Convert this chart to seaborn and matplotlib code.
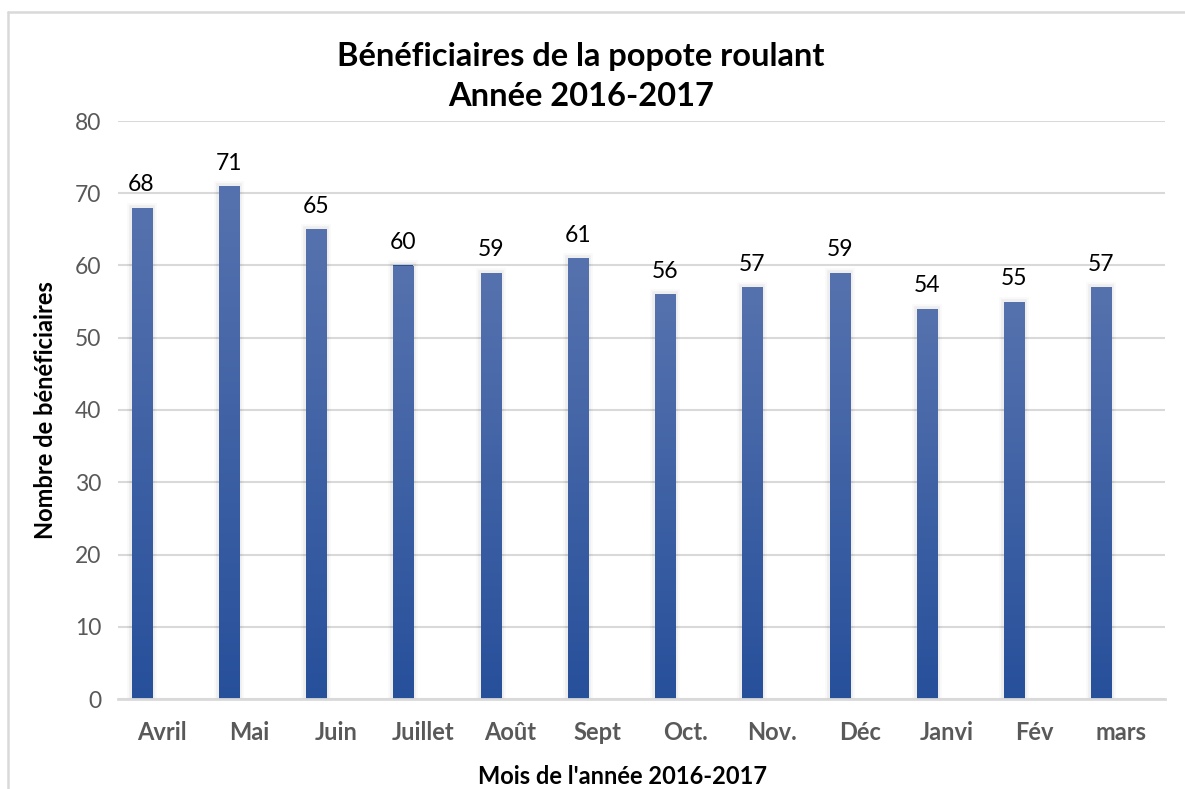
import numpy as np
import pandas as pd
import matplotlib
matplotlib.use('Agg')
import matplotlib.pyplot as plt
import matplotlib.patheffects as pe
from matplotlib.lines import Line2D
import seaborn as sns

# data
mois = ['Avril', 'Mai', 'Juin', 'Juillet', 'Août', 'Sept', 'Oct.', 'Nov.', 'Déc', 'Janvi', 'Fév', 'mars']
beneficiaires = [68, 71, 65, 60, 59, 61, 56, 57, 59, 54, 55, 57]
series = ['Bénéficiaires', 'vide 1', 'vide 2']   # excel chart keeps empty series slots

df = pd.DataFrame({'mois': mois, 'valeur': beneficiaires, 'serie': series[0]})

sns.set_theme(style='white')
plt.rcParams['font.family'] = ['Lato', 'DejaVu Sans']

fig = plt.figure(figsize=(11.85, 7.89), dpi=100)
ax = fig.add_axes([118 / 1185, 1 - 699 / 789, (1165 - 118) / 1185, (699 - 121) / 789])

sns.barplot(data=df, x='mois', y='valeur', hue='serie', hue_order=series,
            palette=['#27509b', '#27509b', '#27509b'], width=0.69, dodge=True,
            legend=False, ax=ax, saturation=1,
            linewidth=0)

# gradient + soft shadow on bars
grad = np.linspace(0, 1, 256).reshape(-1, 1)
cmap = matplotlib.colors.LinearSegmentedColormap.from_list('g', ['#27509b', '#5672ae'])
for p in list(ax.patches):
    if np.isnan(p.get_height()) or p.get_height() == 0:
        continue
    p.set_path_effects([pe.Stroke(linewidth=7, foreground='black', alpha=0.025),
                        pe.Stroke(linewidth=4, foreground='black', alpha=0.045),
                        pe.Normal()])
    x0, y0 = p.get_x(), p.get_y()
    im = ax.imshow(grad, extent=[x0, x0 + p.get_width(), y0, y0 + p.get_height()],
                   origin='lower', cmap=cmap, aspect='auto', zorder=p.get_zorder() + 0.1)
    im.set_clip_path(p)

for c in ax.containers:
    ax.bar_label(c, fontsize=16.5, padding=9, color='black')

ax.set_xlim(-0.5, len(mois) - 0.5)
ax.set_ylim(0, 80)
ax.set_yticks(range(0, 81, 10))
ax.yaxis.grid(True, color='#d9d9d9', linewidth=1.5)
ax.set_axisbelow(True)
for s in ['top', 'right', 'left']:
    ax.spines[s].set_visible(False)
ax.spines['bottom'].set_color('#d9d9d9')
ax.spines['bottom'].set_linewidth(2)
ax.tick_params(axis='both', length=0, colors='#595959', labelsize=16.5)
ax.tick_params(axis='x', pad=16, labelsize=17)
ax.tick_params(axis='y', pad=12)
for t in ax.get_xticklabels():
    t.set_fontweight('bold')

ax.set_xlabel("Mois de l'année 2016-2017", fontsize=17, fontweight='bold', color='black')
ax.xaxis.set_label_coords((623 - 118) / 1047, -0.115)
ax.set_ylabel('Nombre de bénéficiaires', fontsize=17, fontweight='bold', color='black')
ax.yaxis.set_label_coords(-0.058, 0.5)
ax.set_title('Bénéficiaires de la popote roulant\nAnnée 2016-2017', fontsize=23.5,
             fontweight='bold', color='black', x=(581 - 118) / 1047, pad=11, linespacing=1.45)

# chart frame, partly cut off
fig.add_artist(Line2D([8 / 1185, 1], [1 - 12 / 789] * 2, color='#d9d9d9', linewidth=1.8))
fig.add_artist(Line2D([8 / 1185] * 2, [0, 1 - 12 / 789], color='#d9d9d9', linewidth=1.8))

fig.savefig('out.png', dpi=100)
